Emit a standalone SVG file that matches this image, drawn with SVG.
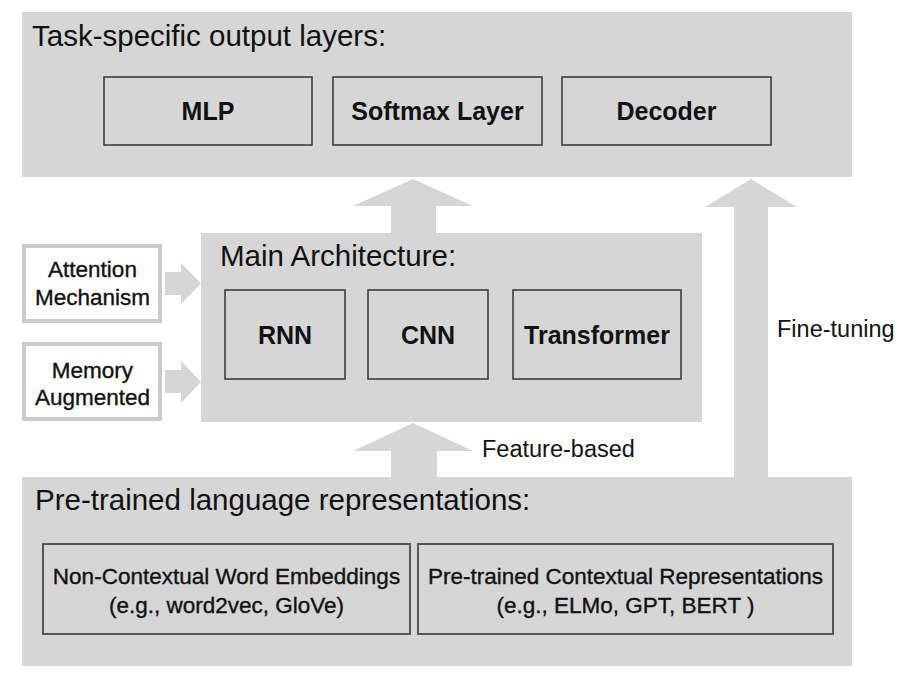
<svg xmlns="http://www.w3.org/2000/svg" width="923" height="685" viewBox="0 0 923 685">
<style>
.panel{fill:#d6d6d6;stroke:none}
.box{fill:none;stroke:#333;stroke-width:1.5}
.box2{fill:none;stroke:#555;stroke-width:2}
.side{fill:#fff;stroke:#cbcbcb;stroke-width:4}
.arrow{fill:#d6d6d6;stroke:none}
.title{font-family:"Liberation Sans",Arial,sans-serif;font-size:29.5px;fill:#111}
.lbl{font-family:"Liberation Sans",Arial,sans-serif;font-size:25px;font-weight:bold;fill:#111;text-anchor:middle}
.sm{font-family:"Liberation Sans",Arial,sans-serif;font-size:22.5px;fill:#111;stroke:#111;stroke-width:0.35;text-anchor:middle}
.edge{font-family:"Liberation Sans",Arial,sans-serif;font-size:23.5px;fill:#111}
</style>
<rect width="923" height="685" fill="#fff"/>
<g id="connectors">
<polygon class="arrow" points="391,233 391,206 353,206 413,179 473,206 436,206 436,233"/>
<polygon class="arrow" points="734,477 734,207 705,207 751,179 797,207 768,207 768,477"/>
<polygon class="arrow" points="391,477 391,451 353,451 413,423 473,451 437,451 437,477"/>
<polygon class="arrow" points="165,272 181,272 181,263 201,283.5 181,304 181,295 165,295"/>
<polygon class="arrow" points="165,370 181,370 181,361 201,382 181,403 181,393 165,393"/>
<text class="edge" x="777" y="337">Fine-tuning</text>
<text class="edge" x="482" y="457">Feature-based</text>
</g>
<g id="output-layers">
<rect class="panel" x="22" y="12" width="830" height="165"/>
<text class="title" x="32" y="46">Task-specific output layers:</text>
</g>
<g id="mlp"><rect class="box" x="104" y="77" width="208" height="68"/><text class="lbl" x="208" y="120">MLP</text></g>
<g id="softmax"><rect class="box" x="333" y="77" width="209" height="68"/><text class="lbl" x="437.5" y="120">Softmax Layer</text></g>
<g id="decoder"><rect class="box" x="562" y="77" width="209" height="68"/><text class="lbl" x="666.5" y="120">Decoder</text></g>
<g id="main-architecture">
<rect class="panel" x="201" y="233" width="501" height="189"/>
<text class="title" x="220" y="266">Main Architecture:</text>
</g>
<g id="rnn"><rect class="box" x="225" y="290" width="120" height="89"/><text class="lbl" x="285" y="344">RNN</text></g>
<g id="cnn"><rect class="box" x="368" y="290" width="120" height="89"/><text class="lbl" x="428" y="344">CNN</text></g>
<g id="transformer"><rect class="box" x="513" y="290" width="168" height="89"/><text class="lbl" x="597" y="344">Transformer</text></g>
<g id="attention"><rect class="side" x="24" y="246" width="136" height="75"/><text class="sm" x="92.5" y="277">Attention</text><text class="sm" x="92.5" y="305">Mechanism</text></g>
<g id="memory"><rect class="side" x="24" y="344" width="136" height="75"/><text class="sm" x="92.5" y="378">Memory</text><text class="sm" x="92.5" y="405">Augmented</text></g>
<g id="pretrained">
<rect class="panel" x="22" y="477" width="830" height="189"/>
<text class="title" x="35" y="510">Pre-trained language representations:</text>
</g>
<g id="non-contextual"><rect class="box2" x="43" y="544" width="367" height="90"/><text class="sm" x="226.5" y="584">Non-Contextual Word Embeddings</text><text class="sm" x="226.5" y="613">(e.g., word2vec, GloVe)</text></g>
<g id="contextual"><rect class="box2" x="418" y="544" width="415" height="90"/><text class="sm" x="625.5" y="584">Pre-trained Contextual Representations</text><text class="sm" x="625.5" y="613">(e.g., ELMo, GPT, BERT )</text></g>
</svg>
